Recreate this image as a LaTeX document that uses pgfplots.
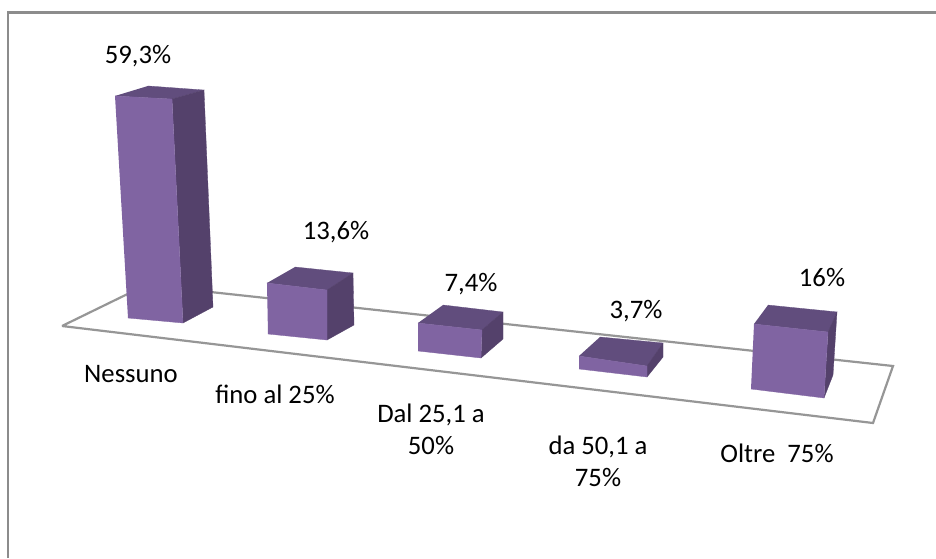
\documentclass[border=0pt]{standalone}
\usepackage{pgfplots}
\pgfplotsset{compat=1.18}
\usepackage{fontspec}
\setmainfont{Carlito}
\definecolor{frontface}{HTML}{8064A2}
\definecolor{sideface}{HTML}{54416B}
\definecolor{topface}{HTML}{614D7D}
\definecolor{framegray}{HTML}{8C8C8C}
\definecolor{floorgray}{HTML}{969696}

% One face of a column: every corner is a floor point (bx,by) that rises by
% (lx,ly) per percentage point when up=1, so the height follows the value.
\newcommand{\face}[3]{%
  \addplot[fill=#1, draw=#1, line width=0.3pt] table[row sep=\\,
    x expr=\thisrow{bx}+\thisrow{up}*#2*\thisrow{lx},
    y expr=\thisrow{by}+\thisrow{up}*#2*\thisrow{ly}]
    {bx by lx ly up\\ #3};
}
% Column with the corners front-left, front-right, back-right, back-left.
\newcommand{\column}[5]{%
  \face{topface}{#1}{#2 1\\ #3 1\\ #4 1\\ #5 1\\}
  \face{sideface}{#1}{#3 0\\ #4 0\\ #4 1\\ #3 1\\}
  \face{frontface}{#1}{#2 0\\ #3 0\\ #3 1\\ #2 1\\}
}
\newcommand{\catlabel}[2]{\node[align=center, font=\fontsize{26.7}{32}\selectfont, anchor=center, inner sep=0pt] at (axis cs:#1) {#2};}

\begin{document}
\begin{tikzpicture}
\useasboundingbox (0,0) rectangle (936pt,558pt);
\begin{axis}[
  at={(0,0)}, anchor=south west,
  scale only axis, width=936pt, height=558pt,
  xmin=0, xmax=936, ymin=0, ymax=558, y dir=reverse,
  hide axis, clip=false,
]
% Chart frame: left and top sides
\addplot[framegray, line width=2.2pt] coordinates {(8,558) (8,12.5) (936,12.5)};
% Floor
\addplot[draw=floorgray, line width=2.2pt, fill=white] coordinates {(62,326) (146,285) (893,366) (873,423) (62,326)};

\column{59.3}{128 318 -0.219 -3.744}{183 323 -0.185 -3.777}{213 307 -0.152 -3.659}{158 303 -0.169 -3.660}
\column{13.6}{268 334 -0.074 -3.750}{327 340 0 -3.676}{354 325 -0.074 -3.824}{296 318 -0.074 -3.750}
\column{7.4}{418 351 0 -3.784}{481 358 0.135 -3.784}{503 339 0 -3.649}{443 332 0 -3.649}
\column{3.7}{579 369 0 -3.514}{647 377 0 -2.970}{663 357 0 -3.784}{600 351 0 -3.784}
\column{16}{751 389 0.188 -4.063}{824 398 0.250 -4.125}{833 375 0.250 -3.940}{764 370 0.250 -4.060}

\catlabel{138,56}{59,3\%}
\catlabel{336,232}{13,6\%}
\catlabel{471,284}{7,4\%}
\catlabel{636,311}{3,7\%}
\catlabel{822,277}{16\%}
\catlabel{131,374}{Nessuno}
\catlabel{275,394}{fino al 25\%}
\catlabel{431,429}{Dal 25,1 a\\50\%}
\catlabel{598,461}{da 50,1 a\\75\%}
\catlabel{777,453}{Oltre\ \ 75\%}
\end{axis}
\end{tikzpicture}
\end{document}
